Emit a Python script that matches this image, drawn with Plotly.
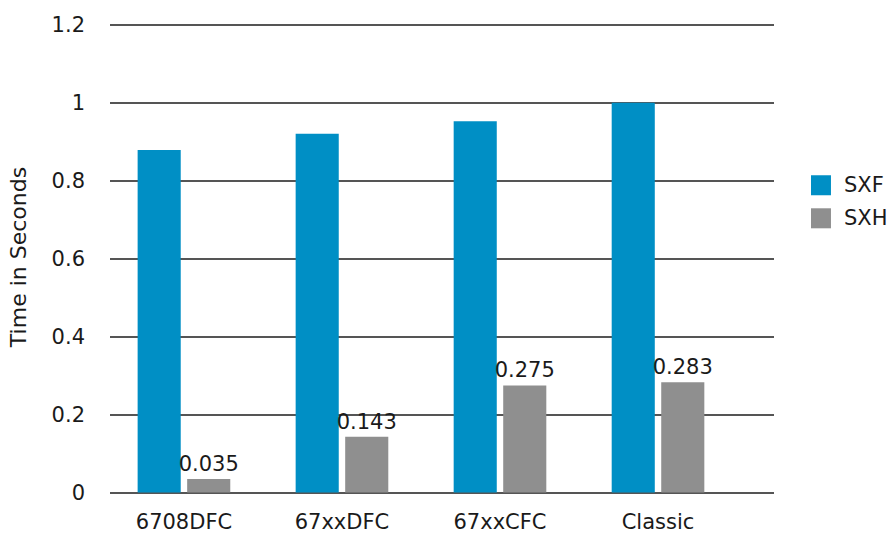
import plotly.graph_objects as go

categories = ["6708DFC", "67xxDFC", "67xxCFC", "Classic"]
sxf_values = [0.879, 0.921, 0.953, 1.0]
sxh_values = [0.035, 0.143, 0.275, 0.283]
sxh_labels = ["0.035", "0.143", "0.275", "0.283"]
y_ticks = [0, 0.2, 0.4, 0.6, 0.8, 1.0, 1.2]
y_tick_labels = ["0", "0.2", "0.4", "0.6", "0.8", "1", "1.2"]
series_names = ["SXF", "SXH"]
series_colors = ["#008FC5", "#8F8F8F"]

FONT = "DejaVu Sans"

fig = go.Figure()
fig.add_trace(go.Bar(
    x=categories, y=sxf_values, name=series_names[0],
    marker=dict(color=series_colors[0], line=dict(width=0)),
    showlegend=False,
))
fig.add_trace(go.Bar(
    x=categories, y=sxh_values, name=series_names[1],
    marker=dict(color=series_colors[1], line=dict(width=0)),
    text=sxh_labels, textposition="outside", constraintext="none",
    textfont=dict(family=FONT, size=21, color="#1a1a1a"),
    cliponaxis=False, showlegend=False,
))

# custom legend with larger swatches (paper coords)
leg_y = [0.652, 0.582]
for name, color, yc in zip(series_names, series_colors, leg_y):
    fig.add_shape(type="rect", xref="paper", yref="paper",
                  x0=1.0557, x1=1.0858, y0=yc - 0.0212, y1=yc + 0.0212,
                  fillcolor=color, line=dict(width=0))
    fig.add_annotation(xref="paper", yref="paper", x=1.1024, y=yc,
                       text=name, showarrow=False, xanchor="left", yanchor="middle",
                       font=dict(family=FONT, size=21, color="#1a1a1a"))

fig.update_layout(
    width=893, height=533,
    margin=dict(l=110, r=119, t=21, b=40, autoexpand=False),
    paper_bgcolor="white", plot_bgcolor="white",
    font=dict(family=FONT, size=21, color="#1a1a1a"),
    barmode="group", bargap=0.373, bargroupgap=0.13,
    xaxis=dict(
        type="category", range=[-0.468, 3.734],
        showgrid=False, zeroline=False, showline=False, ticks="",
        tickfont=dict(family=FONT, size=21, color="#1a1a1a"),
        ticklabelstandoff=14,
    ),
    yaxis=dict(
        range=[-0.001, 1.21], tickvals=y_ticks, ticktext=y_tick_labels,
        showgrid=True, gridcolor="#555555", gridwidth=1.5,
        zeroline=True, zerolinecolor="#555555", zerolinewidth=1.5,
        showline=False, ticks="",
        tickfont=dict(family=FONT, size=21, color="#1a1a1a"),
        ticklabelstandoff=24,
        title=dict(text="Time in Seconds", standoff=18,
                   font=dict(family=FONT, size=22, color="#1a1a1a")),
    ),
)

fig.write_html("out.html")
